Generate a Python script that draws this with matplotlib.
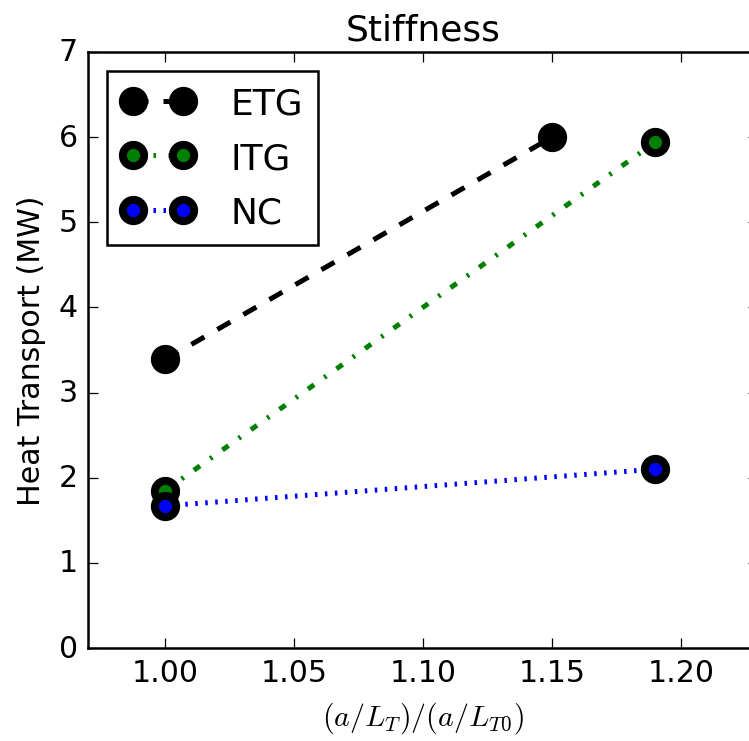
import matplotlib
matplotlib.use("Agg")
import matplotlib.pyplot as plt

plt.style.use('classic')

# data
etg_x = [1.00, 1.15]
etg_y = [3.39, 6.00]
itg_x = [1.00, 1.19]
itg_y = [1.85, 5.94]
nc_x = [1.00, 1.19]
nc_y = [1.67, 2.10]

fig = plt.figure(figsize=(749 / 180, 742 / 180), dpi=180, facecolor='white')
ax = fig.add_axes([0.1175, 0.1253, 0.895, 0.8033])

ax.plot(etg_x, etg_y, 'k--', marker='o', mfc='k', mec='k', ms=8.5, mew=3.2, lw=2, label='ETG')
ax.plot(itg_x, itg_y, 'g-.', marker='o', mfc='g', mec='k', ms=8.5, mew=3.2, lw=2, label='ITG')
ax.plot(nc_x, nc_y, 'b:', marker='o', mfc='b', mec='k', ms=8.5, mew=3.2, lw=2, label='NC')

ax.set_xlim(0.97, 1.23)
ax.set_ylim(0, 7)
ax.set_xticks([1.00, 1.05, 1.10, 1.15, 1.20])
ax.set_title('Stiffness')
ax.set_xlabel(r'$(a/L_T)/(a/L_{T0})$')
ax.set_ylabel('Heat Transport (MW)')
ax.legend(loc='upper left', handletextpad=1.0, labelspacing=0.58,
          borderpad=0.42, borderaxespad=0.53)

fig.savefig('out.png', dpi=180, facecolor='white')
